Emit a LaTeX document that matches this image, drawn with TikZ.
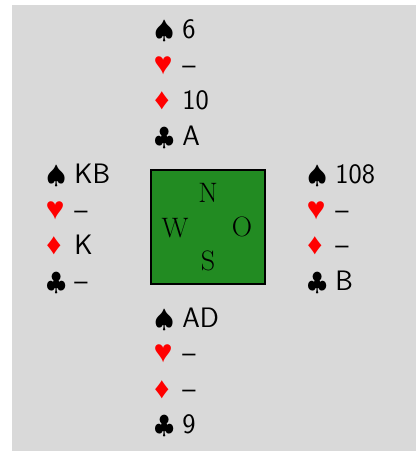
\documentclass[tikz,border=0pt]{standalone}
\usepackage{pifont}
\definecolor{tablegray}{HTML}{D9D9D9}
\definecolor{boardgreen}{HTML}{228B22}
\newcommand{\suit}[1]{\makebox[0.56cm][l]{\Large#1}}
\newcommand{\hand}[4]{\suit{$\spadesuit$}#1\\
  \suit{\color{red}\ding{170}}#2\\
  \suit{\color{red}\ding{169}}#3\\
  \suit{$\clubsuit$}#4}
\begin{document}
\begin{tikzpicture}[
      hand/.style={anchor=west, inner sep=0pt, align=left,
                   font=\fontsize{16}{20.2}\selectfont\sffamily},
      seat/.style={font=\fontsize{16}{19}\selectfont},
      board/.style={draw, line width=1pt, fill=boardgreen,
                    minimum width=2.28cm, minimum height=2.28cm}]
    \useasboundingbox (-4.16,-4.48) rectangle (4.16,4.54);
    \fill[tablegray] (-3.92,-4.48) rectangle (4.16,4.44);
    \node[board] (tisch) at (0,0) {};
    \node[seat] (n) at (0,0.69)      {N};
    \node[seat] (s) at (0,-0.68)     {S};
    \node[seat] (w) at (-0.66,-0.02) {W};
    \node[seat] (o) at (0.68,0)      {O};
    \node[hand] (nord) at (-1.08,2.86)  {\hand{6}{--}{10}{A}};
    \node[hand] (west) at (-3.24,-0.04) {\hand{KB}{--}{K}{--}};
    \node[hand] (ost)  at (1.98,-0.04)  {\hand{108}{--}{--}{B}};
    \node[hand] (sued) at (-1.08,-2.91) {\hand{AD}{--}{--}{9}};
  \end{tikzpicture}
\end{document}
